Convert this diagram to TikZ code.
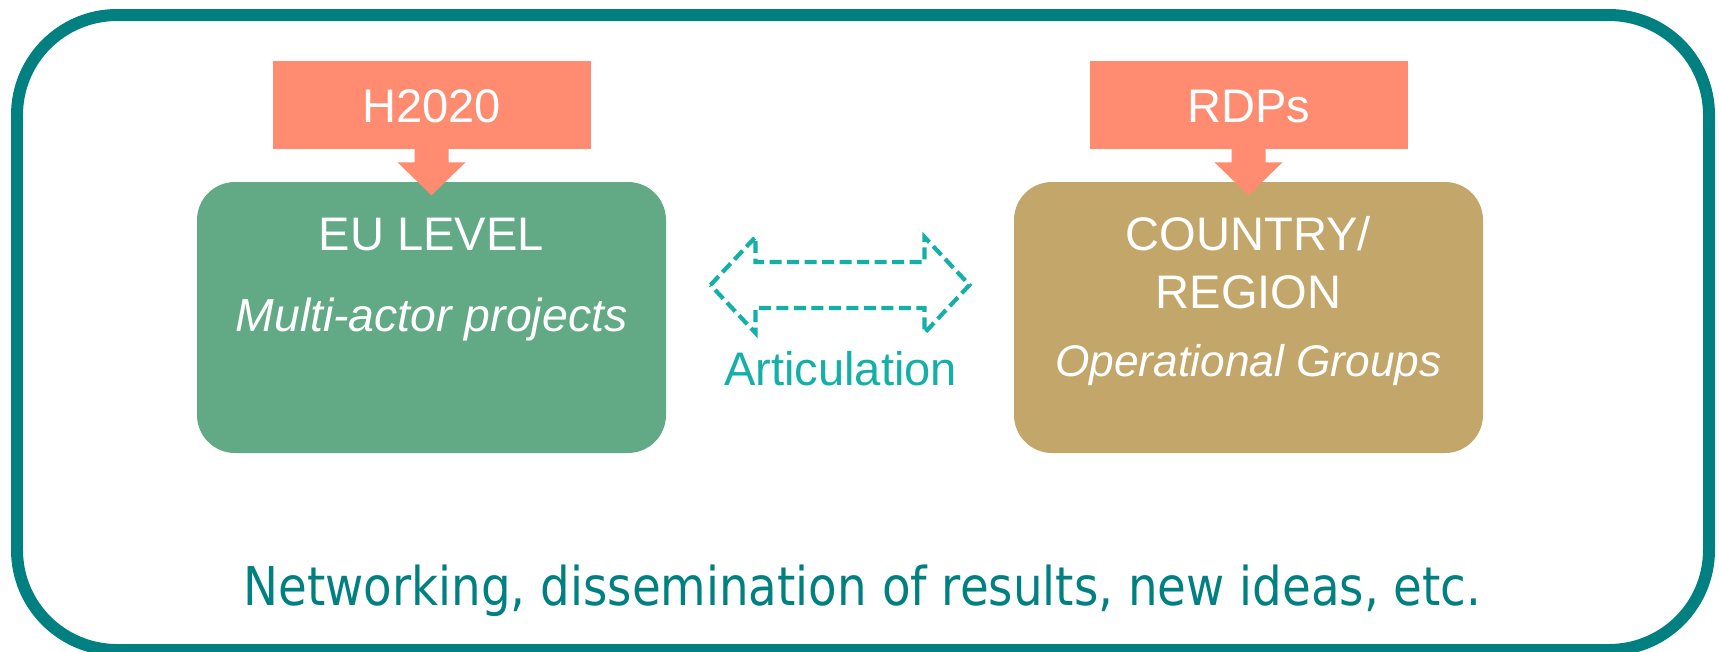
\documentclass[tikz,border=0pt]{standalone}
\usepackage{fontspec}
\setmainfont{Liberation Sans}
\newfontfamily\netfont[FakeStretch=0.875]{DejaVu Sans}
\usetikzlibrary{positioning, calc}

\definecolor{frameteal}{RGB}{0,128,128}
\definecolor{articteal}{RGB}{20,176,168}
\definecolor{eugreen}{RGB}{98,169,133}
\definecolor{regtan}{RGB}{194,166,106}
\definecolor{fundsalmon}{RGB}{255,140,112}

\tikzset{
	levelbox/.style={rounded corners=0.38cm, minimum width=4.69cm, minimum height=2.71cm, inner sep=0pt},
	fundbox/.style={fill=fundsalmon, minimum width=3.18cm, minimum height=0.88cm, inner sep=0pt,
		text=white, font=\fontsize{13.4}{16}\selectfont, text height=0.34cm, text depth=0pt},
	boxtitle/.style={text=white, font=\fontsize{13.4}{16.5}\selectfont, anchor=base, inner sep=0pt},
	boxsub/.style={text=white, font=\fontsize{12.6}{15}\selectfont\itshape, anchor=base, inner sep=0pt},
	artic/.style={articteal, line width=0.042cm, dash pattern=on 0.12cm off 0.055cm}
}

\begin{document}
\begin{tikzpicture}[node distance=2cm,on grid]
		\useasboundingbox (0,0) rectangle (17.19,-6.52);
		% frame
		\draw[frameteal, line width=0.12cm, rounded corners=1cm] (0.17,-0.15) rectangle (17.09,-6.50);
		
		% levels
		\node[levelbox, fill=eugreen] (eu) at (4.315,-3.175) {};
		\node[levelbox, fill=regtan, right = 8.17cm of eu] (region) {};
		
		% funding
		\node[fundbox, above = 2.125cm of eu] (h2020) {H2020};
		\node[fundbox, above = 2.125cm of region] (rdps) {RDPs};
		\fill[fundsalmon] ([xshift=-0.17cm,yshift=0.03cm]h2020.south) |- ([xshift=-0.34cm,yshift=0.19cm]eu.north)
		-- ([yshift=-0.14cm]eu.north) -- ([xshift=0.34cm,yshift=0.19cm]eu.north) -| ([xshift=0.17cm,yshift=0.03cm]h2020.south) -- cycle;
		\fill[fundsalmon] ([xshift=-0.17cm,yshift=0.03cm]rdps.south) |- ([xshift=-0.34cm,yshift=0.19cm]region.north)
		-- ([yshift=-0.14cm]region.north) -- ([xshift=0.34cm,yshift=0.19cm]region.north) -| ([xshift=0.17cm,yshift=0.03cm]rdps.south) -- cycle;
		
		% texts
		\node[boxtitle] (eutitle) at ([yshift=-0.69cm]eu.north) {EU LEVEL};
		\node[boxsub, font=\fontsize{13.2}{15}\selectfont\itshape] (eusub) at ([yshift=-1.50cm]eu.north) {Multi-actor projects};
		\node[boxtitle] (regtitle) at ([yshift=-0.69cm]region.north) {COUNTRY/};
		\node[boxtitle] (regtitle2) at ([yshift=-1.27cm]region.north) {REGION};
		\node[boxsub] (regsub) at ([yshift=-1.95cm]region.north) {Operational Groups};
		
		% articulation
		\coordinate (mid) at ($(eu.east)!0.5!(region.west)+(0,0.325)$);
		\draw[artic] (mid) ++(-1.295,0) -- ++(0.45,0.48) -- ++(0,-0.25) -- ++(1.69,0) -- ++(0,0.25)
		-- ++(0.45,-0.48) -- ++(-0.45,-0.48) -- ++(0,0.25) -- ++(-1.69,0) -- ++(0,-0.25) -- cycle;
		\node[articteal, font=\fontsize{13.4}{16}\selectfont, anchor=base, inner sep=0pt] (artlabel) at (8.405,-3.85) {Articulation};
		
		% bottom
		\node[frameteal, font=\netfont\fontsize{15.2}{18}\selectfont, anchor=base, inner sep=0pt] (net) at (8.625,-6.05)
		{Networking, dissemination of results, new ideas, etc.};
\end{tikzpicture}
\end{document}
